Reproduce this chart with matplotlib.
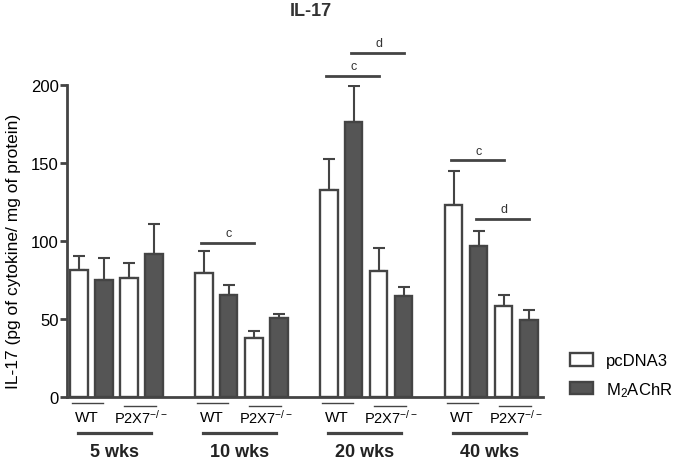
import numpy as np
import matplotlib
matplotlib.use('Agg')
import matplotlib.pyplot as plt
from matplotlib.patches import Patch

plt.rcParams['font.family'] = ['Liberation Sans', 'DejaVu Sans']
plt.rcParams['mathtext.default'] = 'regular'

# data (bar height and upper error)
groups = ['5 wks', '10 wks', '20 wks', '40 wks']
genotypes = ['WT', r'P2X7$^{-/-}$']
wt_pc = [81.4, 79.2, 132.9, 123.3]
wt_pc_err = [8.8, 14.2, 19.6, 21.2]
wt_m2 = [75.2, 65.5, 176.2, 97.0]
wt_m2_err = [13.8, 6.4, 23.2, 9.2]
ko_pc = [76.0, 37.5, 80.5, 58.4]
ko_pc_err = [9.9, 4.9, 14.8, 6.9]
ko_m2 = [91.7, 50.3, 64.9, 49.5]
ko_m2_err = [19.2, 2.8, 5.6, 6.2]

# significance bars: (group, first bar, last bar, height, letter)
sig = [(1, 0, 2, 98.7, 'c'),
       (2, 0, 2, 206.0, 'c'),
       (2, 1, 3, 220.5, 'd'),
       (3, 0, 2, 151.6, 'c'),
       (3, 1, 3, 113.9, 'd')]

dark = '#555555'
edge = '#444444'
width = 0.7

fig = plt.figure(figsize=(6.75, 4.6), dpi=100)
ax = fig.add_axes([67/675, 1-397.7/460, (543-67)/675, (397.7-86)/460])

series = [(wt_pc, wt_pc_err, 'white'), (wt_m2, wt_m2_err, dark),
          (ko_pc, ko_pc_err, 'white'), (ko_m2, ko_m2_err, dark)]
starts = np.arange(len(groups)) * 5
for j, (vals, errs, fc) in enumerate(series):
    x = starts + j
    ax.errorbar(x + width/2, vals, yerr=[np.zeros(len(vals)), errs], fmt='none',
                ecolor=edge, elinewidth=1.5, capsize=4.3, capthick=1.5, zorder=1)
    ax.bar(x, vals, width=width, align='edge', color=fc, edgecolor=edge,
           linewidth=1.7, zorder=2)

for g, a, b, h, letter in sig:
    x0 = starts[g] + a + width/2
    x1 = starts[g] + b + width/2
    ax.plot([x0 - 0.1, x1], [h, h], color=edge, lw=2, clip_on=False)
    ax.text((x0 + x1)/2, h + 2.5, letter, ha='center', va='bottom', fontsize=9,
            color='#333333')

# labels below the axis
for g, name in enumerate(groups):
    s = starts[g]
    ax.plot([s + 0.07, s + 1.33], [-4.0, -4.0], color=edge, lw=1, clip_on=False)
    ax.plot([s + 2.17, s + 3.45], [-5.7, -5.7], color=edge, lw=1, clip_on=False)
    ax.text(s + 0.66, -13, genotypes[0], ha='center', va='center', fontsize=11)
    ax.text(s + 2.86, -13, genotypes[1], ha='center', va='center', fontsize=10.5)
    ax.plot([s + 0.32, s + 3.24], [-23.5, -23.5], color=edge, lw=2.3, clip_on=False)
    ax.text(s + 1.78, -35, name, ha='center', va='center', fontsize=13,
            fontweight='bold', color='#222222')

ax.set_xlim(-0.12, 18.92)
ax.set_ylim(0, 200)
ax.set_yticks([0, 50, 100, 150, 200])
ax.set_xticks([])
for side in ['top', 'right']:
    ax.spines[side].set_visible(False)
for side in ['left', 'bottom']:
    ax.spines[side].set_linewidth(2)
    ax.spines[side].set_color(edge)
ax.tick_params(axis='y', length=5, width=2, color=edge, labelsize=12, pad=1)

fig.text(14/675, 1-251/460, 'IL-17 (pg of cytokine/ mg of protein)', rotation=90,
         ha='center', va='center', fontsize=12.5)

fig.text(311/675, 1-12/460, 'IL-17', ha='center', va='center', fontsize=13,
         fontweight='bold', color='#333333')

handles = [Patch(facecolor='white', edgecolor=edge, linewidth=1.7),
           Patch(facecolor=dark, edgecolor=edge, linewidth=1.7)]
fig.legend(handles, ['pcDNA3', 'M$_2$AChR'], loc='center left',
           bbox_to_anchor=(570/675, 1-377/460), frameon=False, fontsize=12,
           handlelength=1.35, handleheight=0.75, labelspacing=0.7, handletextpad=0.8,
           borderpad=0, borderaxespad=0)

fig.savefig('out.png', dpi=100)
